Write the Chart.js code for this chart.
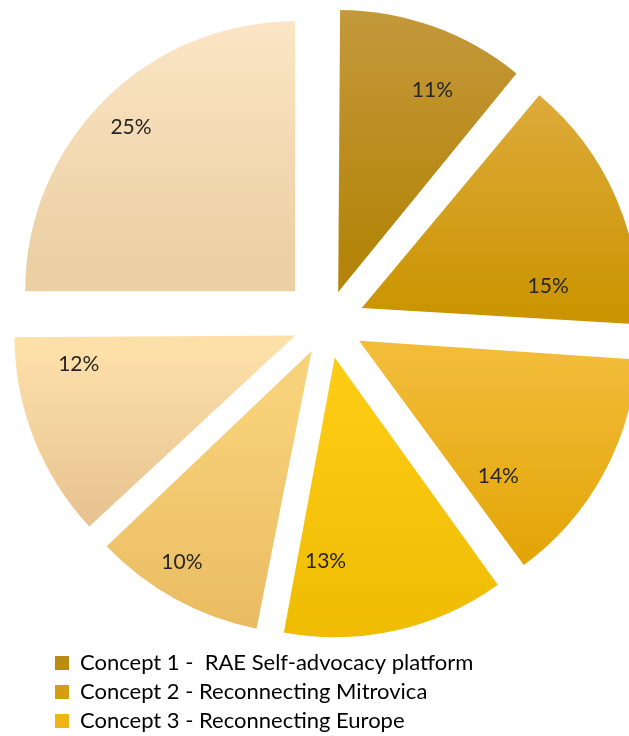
<!DOCTYPE html>
<html>
<head>
<meta charset="utf-8">
<script src="https://cdn.jsdelivr.net/npm/chart.js@4/dist/chart.umd.min.js"></script>
<style>
  html, body { margin: 0; padding: 0; background: #ffffff; }
  #wrap { position: relative; width: 629px; height: 736px; }
</style>
</head>
<body>
<div id="wrap"><canvas id="pie" width="629" height="736"></canvas></div>
<script>
// Survey shares per concept (percent)
const categories = [
  'Concept 1 -  RAE Self-advocacy platform',
  'Concept 2 - Reconnecting Mitrovica',
  'Concept 3 - Reconnecting Europe',
  'Concept 4',
  'Concept 5',
  'Concept 6',
  'Concept 7'
];
const shares = [11, 15, 14, 13, 10, 12, 25];
const legendShown = 3;

// Vertical gradient stops for each slice (top -> bottom)
const topColors    = ['#C69B42', '#DFAC3E', '#F2BB38', '#FDCA14', '#F8D27A', '#FDDFA8', '#FDE8C9'];
const bottomColors = ['#B4850A', '#CB9502', '#E1A200', '#ECBA00', '#E8B95F', '#E5C08E', '#ECD0A4'];
const legendColors = ['#BB8C14', '#D49D14', '#F0B414'];

// Layout constants
const RADIUS = 270;      // pie radius in px
const EXPLODE = 45;      // distance each slice is pulled out from the centre
const total = shares.reduce((a, b) => a + b, 0);
const cumulative = shares.reduce((acc, v, i) => { acc.push((acc[i - 1] || 0) + (i ? shares[i - 1] : 0)); return acc; }, []);
// Label placement inside each slice: fraction of the slice angle, fraction of the radius
const labelAngleFrac  = [0.64, 0.82, 0.82, 0.84, 0.58, 0.84, 0.50];
const labelRadiusFrac = [0.78, 0.67, 0.69, 0.72, 0.87, 0.77, 0.86];

function sliceAngles(i) {
  const a0 = -Math.PI / 2 + 2 * Math.PI * cumulative[i] / total;
  const a1 = a0 + 2 * Math.PI * shares[i] / total;
  return [a0, a1];
}

function angleInside(a, a0, a1) {
  const TAU = 2 * Math.PI;
  let t = a;
  while (t < a0) t += TAU;
  while (t > a0 + TAU) t -= TAU;
  return t <= a1;
}

function sliceFill(ctx) {
  const i = ctx.dataIndex;
  const chart = ctx.chart;
  const area = chart.chartArea;
  if (!area) return bottomColors[i];
  const cx = (area.left + area.right) / 2;
  const cy = (area.top + area.bottom) / 2;
  const [a0, a1] = sliceAngles(i);
  const mid = (a0 + a1) / 2;
  const ax = cx + EXPLODE * Math.cos(mid);
  const ay = cy + EXPLODE * Math.sin(mid);
  const ys = [ay, ay + RADIUS * Math.sin(a0), ay + RADIUS * Math.sin(a1)];
  if (angleInside(Math.PI / 2, a0, a1)) ys.push(ay + RADIUS);
  if (angleInside(-Math.PI / 2, a0, a1)) ys.push(ay - RADIUS);
  const g = chart.ctx.createLinearGradient(0, Math.min(...ys), 0, Math.max(...ys));
  g.addColorStop(0, topColors[i]);
  g.addColorStop(1, bottomColors[i]);
  return g;
}

// ArcElement moves a slice by offset/4 * (1 + fix); invert that so every slice moves EXPLODE px
function sliceOffset(ctx) {
  const circ = 2 * Math.PI * shares[ctx.dataIndex] / total;
  const fix = 1 - Math.sin(Math.min(Math.PI, circ));
  return 4 * EXPLODE / (1 + fix);
}

const percentLabels = {
  id: 'percentLabels',
  afterDatasetsDraw(chart) {
    const meta = chart.getDatasetMeta(0);
    const c = chart.ctx;
    c.save();
    c.font = '21px Lato';
    c.fillStyle = '#262626';
    c.textAlign = 'center';
    c.textBaseline = 'middle';
    meta.data.forEach((arc, i) => {
      const { x, y, startAngle, endAngle, outerRadius } = arc.getProps(['x', 'y', 'startAngle', 'endAngle', 'outerRadius'], true);
      const mid = (startAngle + endAngle) / 2;
      const ax = x + EXPLODE * Math.cos(mid);
      const ay = y + EXPLODE * Math.sin(mid);
      const a = startAngle + (endAngle - startAngle) * labelAngleFrac[i];
      const r = outerRadius * labelRadiusFrac[i];
      c.fillText(shares[i] + '%', ax + r * Math.cos(a), ay + r * Math.sin(a));
    });
    c.restore();
  }
};

new Chart(document.getElementById('pie'), {
  type: 'pie',
  data: {
    labels: categories,
    datasets: [{
      data: shares,
      backgroundColor: sliceFill,
      borderWidth: 0,
      offset: sliceOffset,
      hoverOffset: 0,
      radius: RADIUS,
      clip: false
    }]
  },
  options: {
    responsive: false,
    animation: false,
    devicePixelRatio: 1,
    layout: { padding: { left: 48, right: 23, top: 1, bottom: -6 } },
    plugins: {
      tooltip: { enabled: false },
      legend: {
        position: 'bottom',
        align: 'start',
        labels: {
          boxWidth: 14,
          boxHeight: 14,
          padding: 7,
          color: '#111111',
          font: { family: 'Lato', size: 22 },
          generateLabels(chart) {
            return categories.slice(0, legendShown).map((text, i) => ({
              text,
              fillStyle: legendColors[i],
              strokeStyle: legendColors[i],
              lineWidth: 0,
              hidden: false,
              index: i
            }));
          }
        }
      }
    }
  },
  plugins: [percentLabels]
});
</script>
</body>
</html>
